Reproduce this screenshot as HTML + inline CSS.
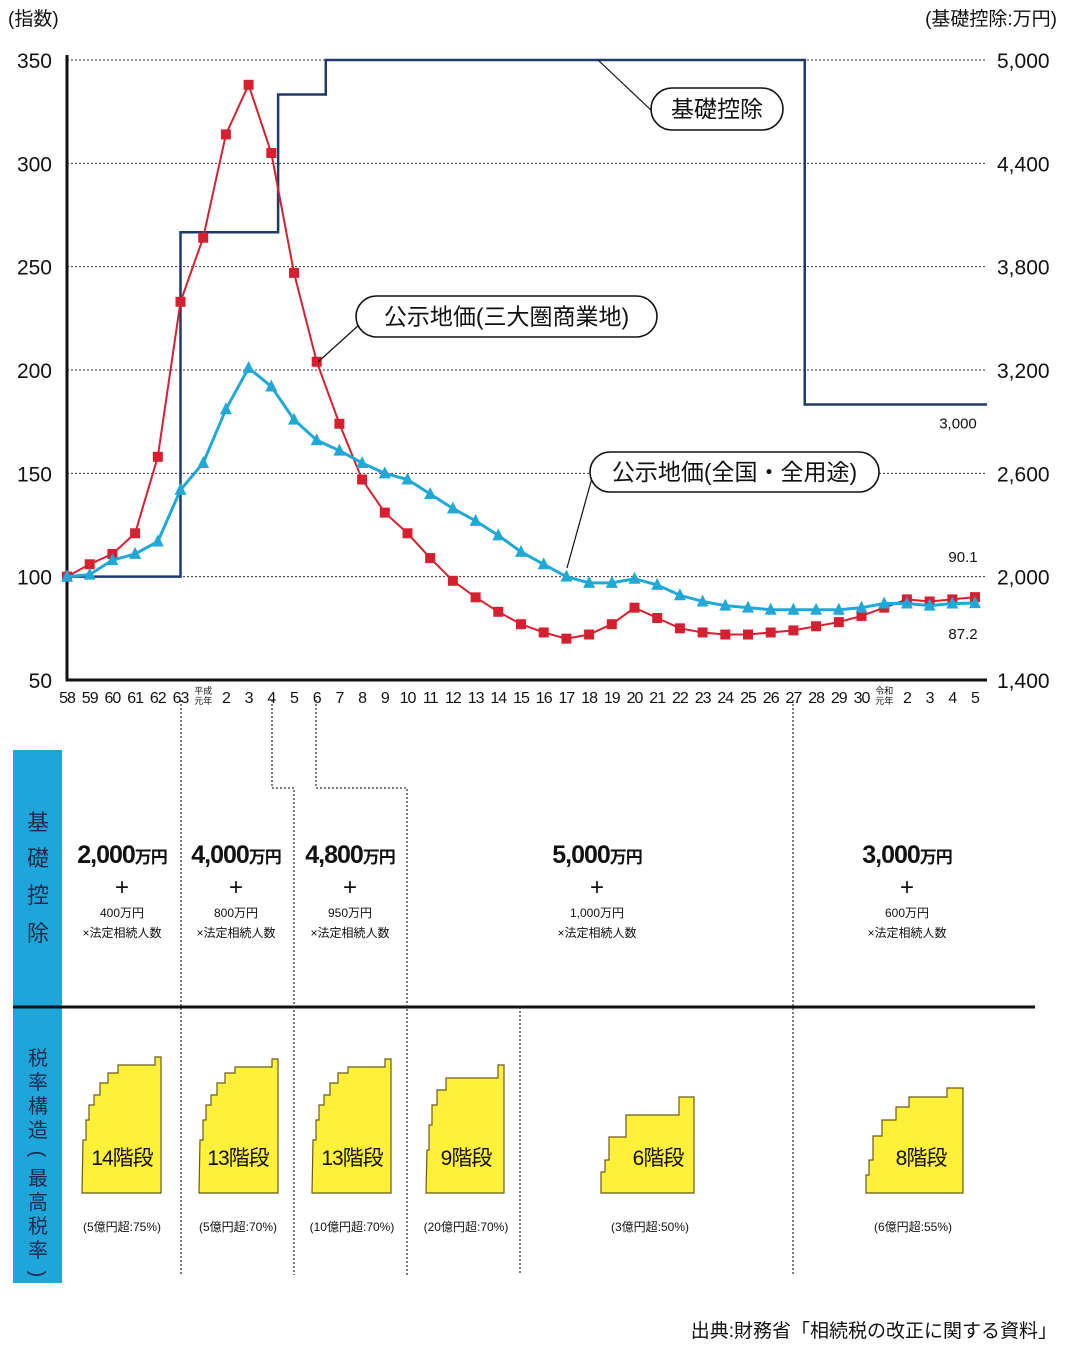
<!DOCTYPE html>
<html><head><meta charset="utf-8"><style>
html,body{margin:0;padding:0;background:#fff;}
svg{display:block;font-family:"Liberation Sans","Noto Sans CJK JP",sans-serif;}
</style></head><body>
<svg id="c" width="1065" height="1350" viewBox="0 0 1065 1350" xmlns="http://www.w3.org/2000/svg">
<g id="grid"></g>
<g id="axes"></g>
<g id="series"></g>
<g id="callouts"></g>
<g id="table"></g>
</svg>
<script>
const categories=["58","59","60","61","62","63","平成元年","2","3","4","5","6","7","8","9","10","11","12","13","14","15","16","17","18","19","20","21","22","23","24","25","26","27","28","29","30","令和元年","2","3","4","5"];
const commercialValues=[100,106,111,121,158,233,264,314,338,305,247,204,174,147,131,121,109,98,90,83,77,73,70,72,77,85,80,75,73,72,72,73,74,76,78,81,85,89,88,89,90.1];
const nationalValues=[100,101,108,111,117,142,155,181,201,192,176,166,161,155,150,147,140,133,127,120,112,106,100,97,97,99,96,91,88,86,85,84,84,84,84,85,87,87,86,87,87.2];
const deductionChangeIdx=[0,5,9.3,11.4,32.5];
const deductionValues=[2000,4000,4800,5000,3000];
const leftTicks=[50,100,150,200,250,300,350];
const rightTicks=[1400,2000,2600,3200,3800,4400,5000];

const NS="http://www.w3.org/2000/svg";
const X0=67,X1=975,XR=987,YT=60,YB=680;
const xS=i=>X0+i*(X1-X0)/(categories.length-1);
const yL=v=>YB-(v-50)*(YB-YT)/300;
const yR=v=>YB-(v-1400)*(YB-YT)/3600;
function mk(tag,attrs,parent,txt){const e=document.createElementNS(NS,tag);for(const k in attrs)e.setAttribute(k,attrs[k]);if(txt!==undefined)e.textContent=txt;parent.appendChild(e);return e;}
const G=id=>document.getElementById(id);

// gridlines & tick labels
leftTicks.forEach((t,i)=>{
  if(t>50){const l=mk('line',{x1:X0,x2:985,y1:yL(t),y2:yL(t),stroke:'#333','stroke-width':1,'stroke-dasharray':'2,2'},G('grid'));
  
  }
  const tx=mk('text',{x:52,y:yL(t)+8,'text-anchor':'end','font-size':21,fill:'#111'},G('axes'),String(t));
  
  
});
rightTicks.forEach(t=>{
  const tx=mk('text',{x:997,y:yR(t)+8,'font-size':21,fill:'#111'},G('axes'),t.toLocaleString('en-US'));
  
  
});
let ax=mk('path',{d:`M${X0} ${YT-5} V${YB} H${XR}`,stroke:'#111','stroke-width':3,fill:'none'},G('axes'));


let t1=mk('text',{x:8,y:25,'font-size':19,fill:'#111'},G('axes'),'(指数)');


let t2=mk('text',{x:1057,y:25,'font-size':19,'text-anchor':'end',fill:'#111'},G('axes'),'(基礎控除:万円)');


categories.forEach((c,i)=>{
  let el;
  if(c.length>2){
    el=mk('text',{x:xS(i),y:694,'text-anchor':'middle','font-size':9,fill:'#111'},G('axes'));
    mk('tspan',{x:xS(i),dy:0},el,c.slice(0,2));
    mk('tspan',{x:xS(i),dy:10},el,c.slice(2));
  } else {
    el=mk('text',{x:xS(i),y:703,'text-anchor':'middle','font-size':16,fill:'#111','letter-spacing':'-1'},G('axes'),c);
  }
  
  
});

// deduction step line
let d='';
deductionValues.forEach((v,i)=>{
  const xa=xS(deductionChangeIdx[i]);
  const xb=i<deductionValues.length-1?xS(deductionChangeIdx[i+1]):XR;
  d+=(i===0?`M${xa} ${yR(v)}`:` V${yR(v)}`)+` H${xb}`;
});
let st=mk('path',{d:d,stroke:'#1d3a6b','stroke-width':2.5,fill:'none'},G('series'));



// commercial (red)
let rp=mk('polyline',{points:commercialValues.map((v,i)=>xS(i)+','+yL(v)).join(' '),stroke:'#d4202f','stroke-width':2,fill:'none'},G('series'));


commercialValues.forEach((v,i)=>{
  const r=mk('rect',{x:xS(i)-5,y:yL(v)-5,width:10,height:10,fill:'#d4202f'},G('series'));
  
  
});
// national (blue)
let bp=mk('polyline',{points:nationalValues.map((v,i)=>xS(i)+','+yL(v)).join(' '),stroke:'#22a8d6','stroke-width':3,fill:'none'},G('series'));


nationalValues.forEach((v,i)=>{
  const x=xS(i),y=yL(v);
  const p=mk('polygon',{points:`${x},${y-7} ${x-6},${y+5} ${x+6},${y+5}`,fill:'#22a8d6'},G('series'));
  
  
});
// end value labels
let l1=mk('text',{x:963,y:yL(commercialValues[40])-35,'text-anchor':'middle','font-size':15,fill:'#111'},G('series'),String(commercialValues[40]));


let l2=mk('text',{x:963,y:yL(nationalValues[40])+36,'text-anchor':'middle','font-size':15,fill:'#111'},G('series'),String(nationalValues[40]));


let l3=mk('text',{x:958,y:yR(deductionValues[4])+24,'text-anchor':'middle','font-size':15,fill:'#111'},G('series'),'3,000');



// callouts
function callout(x,y,w,h,text,lx1,ly1,lx2,ly2,name){
  const g=mk('g',{},G('callouts'));
  
  
  mk('line',{x1:lx1,y1:ly1,x2:lx2,y2:ly2,stroke:'#111','stroke-width':1.2},g);
  mk('rect',{x:x,y:y,width:w,height:h,rx:h/2,fill:'#fff',stroke:'#111','stroke-width':1.6},g);
  mk('text',{x:x+w/2,y:y+h/2+8,'text-anchor':'middle','font-size':23,fill:'#111'},g,text);
}
callout(651,88,132,42,'基礎控除',598,60,653,112,'callout-deduction');
callout(356,296,301,41,'公示地価(三大圏商業地)',318,362,360,324,'callout-commercial');
callout(590,452,289,40,'公示地価(全国・全用途)',567,568,592,478,'callout-national');

// bottom table
const T=G('table');
let br=mk('rect',{x:13,y:750,width:49,height:533,fill:'#1ea6da'},T);


[['基',822],['礎',858],['控',895],['除',933]].forEach(([c,y])=>{
  const e=mk('text',{x:38,y:y+8,'text-anchor':'middle','font-size':22,fill:'#1b2a4a'},T,c);
  
  
});
'税率構造(最高税率)'.split('').forEach((c,i)=>{
  const rot=(c==='('||c===')');
  const e=mk('text',{x:38,y:1065+i*24,'text-anchor':'middle','font-size':20,fill:'#1b2a4a',transform:rot?`rotate(90 38 ${1058+i*24})`:''},T,rot?(c==='('?'(':')'):c);
  
  
});
let hl=mk('line',{x1:13,x2:1035,y1:1007,y2:1007,stroke:'#111','stroke-width':3},T);


const dash={stroke:'#333','stroke-width':1.3,'stroke-dasharray':'2,2',fill:'none'};
['M181 700 V1275','M272 700 V788 H294 V1275','M316 700 V788 H407 V1275','M520 1007 V1275','M793 700 V1275'].forEach(p=>{
  const e=mk('path',Object.assign({d:p},dash),T);
  
  
});
const ded=[[122,'2,000','400万円'],[236,'4,000','800万円'],[350,'4,800','950万円'],[597,'5,000','1,000万円'],[907,'3,000','600万円']];
ded.forEach(([x,a,b])=>{
  const g=mk('g',{},T);
  
  
  const t=mk('text',{x:x,y:863,'text-anchor':'middle','font-size':25,'font-weight':'bold',fill:'#111','letter-spacing':'-1'},g);
  mk('tspan',{},t,a);
  mk('tspan',{'font-size':17},t,'万円');
  mk('text',{x:x,y:895,'text-anchor':'middle','font-size':24,fill:'#111'},g,'+');
  mk('text',{x:x,y:917,'text-anchor':'middle','font-size':12,fill:'#111'},g,b);
  mk('text',{x:x,y:937,'text-anchor':'middle','font-size':12,fill:'#111'},g,'×法定相続人数');
});
const stairs=[
 ['82,1193 83,1140 86,1140 86,1120 89,1120 89,1105 94,1105 94,1095 100,1095 100,1083 108,1083 108,1073 118,1073 118,1065 155,1065 155,1057 161,1057 161,1193',0,'14階段','(5億円超:75%)',122],
 ['82,1193 83,1140 86,1140 86,1120 89,1120 89,1105 94,1105 94,1095 100,1095 100,1083 108,1083 108,1073 118,1073 118,1067 155,1067 155,1059 161,1059 161,1193',117,'13階段','(5億円超:70%)',238],
 ['82,1193 83,1140 86,1140 86,1120 89,1120 89,1105 94,1105 94,1095 100,1095 100,1083 108,1083 108,1073 118,1073 118,1067 155,1067 155,1059 161,1059 161,1193',230,'13階段','(10億円超:70%)',352],
 ['426,1193 427,1150 429,1150 429,1125 432,1125 432,1105 437,1105 437,1090 446,1090 446,1078 498,1078 498,1065 504,1065 504,1193',0,'9階段','(20億円超:70%)',466],
 ['601,1193 601,1172 605,1172 605,1160 609,1160 609,1137 626,1137 626,1115 679,1115 679,1097 694,1097 694,1193',0,'6階段','(3億円超:50%)',650],
 ['866,1193 866,1175 869,1175 869,1160 873,1160 873,1136 882,1136 882,1120 896,1120 896,1107 909,1107 909,1097 947,1097 947,1088 963,1088 963,1193',0,'8階段','(6億円超:55%)',913]
];
stairs.forEach(([pts,dx,lab,sub,cx])=>{
  const g=mk('g',{transform:`translate(${dx},0)`},T);
  
  
  mk('polygon',{points:pts,fill:'#fff03a',stroke:'#6b5a1a','stroke-width':1.2},g);
  const lx=lab.length===4?cx-dx:cx-dx+8;
  mk('text',{x:(lab==='6階段'||lab==='8階段')?cx-dx+8:cx-dx,y:1165,'text-anchor':'middle','font-size':21,fill:'#111','letter-spacing':'-1'},g,lab);
  mk('text',{x:cx-dx,y:1231,'text-anchor':'middle','font-size':12,fill:'#111'},g,sub);
});
let src=mk('text',{x:1057,y:1337,'text-anchor':'end','font-size':19,fill:'#111'},T,'出典:財務省「相続税の改正に関する資料」');


</script>
</body></html>
